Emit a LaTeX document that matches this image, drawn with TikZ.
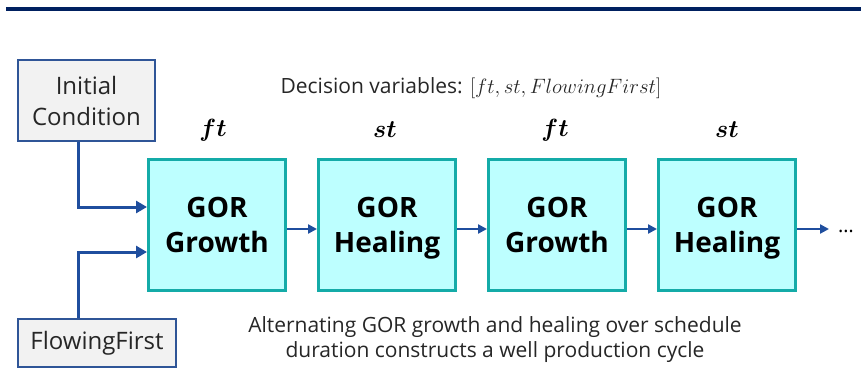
\documentclass[tikz,border=0pt]{standalone}
\usepackage{amsmath}
\usepackage{bm}
\usepackage{fontspec}
\setmainfont{Open Sans}
\usetikzlibrary{arrows.meta}
\definecolor{navy}{HTML}{002060}
\definecolor{arrowblue}{HTML}{1F4E9E}
\definecolor{graybox}{HTML}{F2F2F2}
\definecolor{grayedge}{HTML}{2F5597}
\definecolor{cyanfill}{HTML}{BDFFFF}
\definecolor{tealedge}{HTML}{14ABA8}
\tikzset{
  inbox/.style={draw=grayedge, fill=graybox, line width=1.5pt, inner sep=0pt, align=center, font=\fontsize{24}{31}\selectfont, text=black!85},
  gorbox/.style={draw=tealedge, fill=cyanfill, line width=3pt, minimum width=137pt, minimum height=131pt, inner sep=0pt, align=center, font=\fontsize{28}{35}\selectfont\bfseries},
  inarrow/.style={draw=arrowblue, line width=3pt, -{Triangle[length=11pt,width=12pt]}},
  linkarrow/.style={draw=arrowblue, line width=2.5pt, -{Triangle[length=9pt,width=9pt]}},
  varlabel/.style={font=\fontsize{28}{30}\selectfont},
  plaintext/.style={font=\fontsize{21}{25}\selectfont, align=center, text=black!85}
}
\begin{document}
\begin{tikzpicture}[x=1pt,y=1pt]
\useasboundingbox (0,0) rectangle (861,368);
\fill[navy] (6,357) rectangle (861,361);

\node[inbox, minimum width=137pt, minimum height=81pt] (ic) at (86.5,267.5) {Initial\\Condition};
\node[inbox, minimum width=158pt, minimum height=48pt] (ff) at (97,25) {FlowingFirst};

\node[gorbox] (g1) at (217,143) {GOR\\Growth};
\node[gorbox] (g2) at (387,143) {GOR\\\smash{Healing}};
\node[gorbox] (g3) at (557,143) {GOR\\Growth};
\node[gorbox] (g4) at (727,143) {GOR\\\smash{Healing}};

\node[varlabel] (v1) at (213,238) {$\bm{ft}$};
\node[varlabel] (v2) at (385,238) {$\bm{st}$};
\node[varlabel] (v3) at (555,238) {$\bm{ft}$};
\node[varlabel] (v4) at (727,238) {$\bm{st}$};

\node[plaintext] (dv) at (471,280) {Decision variables: {\fontsize{22}{25}\selectfont$[ft, st, FlowingFirst]$}};
\node[plaintext] (bt) at (495,28) {Alternating GOR growth and healing over schedule\\duration constructs a well production cycle};

\draw[inarrow] ([xshift=-8.5pt]ic.south) |- ([yshift=18pt]g1.west);
\draw[inarrow] ([xshift=-19pt]ff.north) |- ([yshift=-27pt]g1.west);

\draw[linkarrow] ([yshift=-4pt]g1.east) -- ([yshift=-4pt]g2.west);
\draw[linkarrow] ([yshift=-4pt]g2.east) -- ([yshift=-4pt]g3.west);
\draw[linkarrow] ([yshift=-4pt]g3.east) -- ([yshift=-4pt]g4.west);
\coordinate (endp) at (829,139);
\draw[linkarrow] ([yshift=-4pt]g4.east) -- (endp);
\node[font=\fontsize{20}{24}\selectfont, anchor=west, inner sep=0pt] (dots) at (838,137) {\dots};
\end{tikzpicture}
\end{document}
